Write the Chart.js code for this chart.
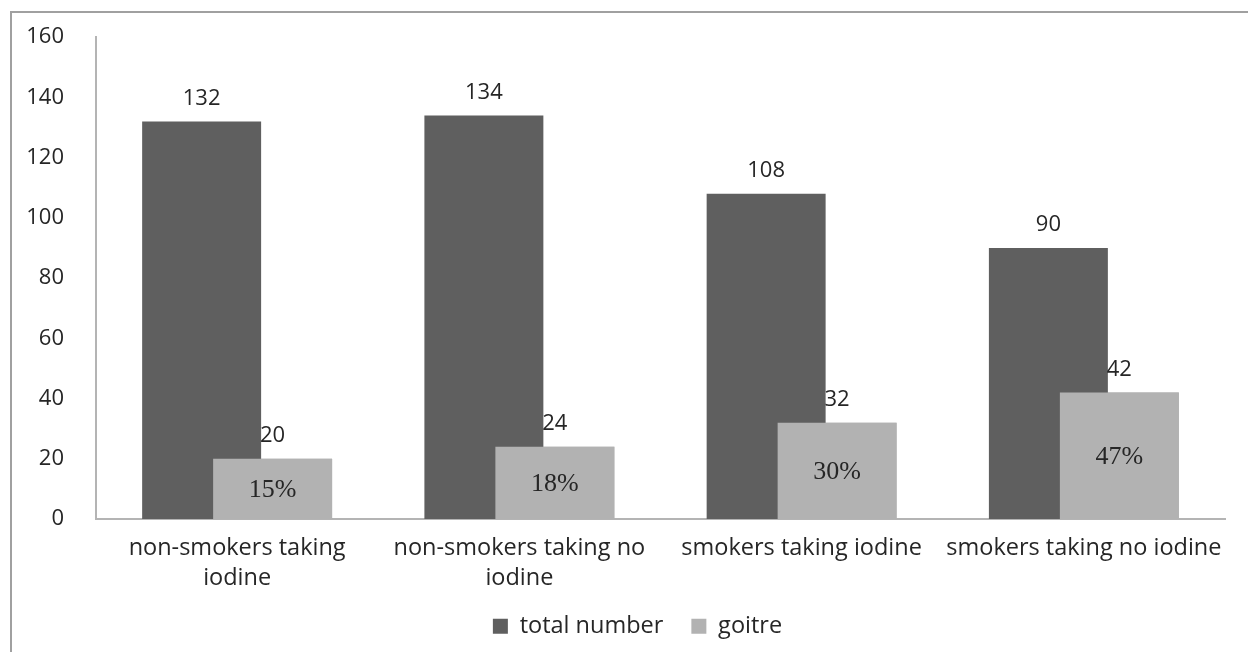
<!DOCTYPE html>
<html>
<head>
<meta charset="utf-8">
<script src="https://cdn.jsdelivr.net/npm/chart.js@4/dist/chart.umd.min.js"></script>
<style>
  html, body { margin: 0; padding: 0; background: #fff; }
  #wrap { position: relative; width: 1248px; height: 652px; overflow: hidden; }
  #frame { position: absolute; left: 10px; top: 11px; width: 1300px; height: 700px;
           border-top: 2px solid #a0a0a0; border-left: 2px solid #a0a0a0; }
  canvas { position: absolute; left: 0; top: 0; }
</style>
</head>
<body>
<div id="wrap">
  <div id="frame"></div>
  <canvas id="grafico" width="1248" height="652"></canvas>
</div>
<script>
// categorias e valores
const categorias = [
    ["non-smokers taking", "iodine"],
    ["non-smokers taking no", "iodine"],
    "smokers taking iodine",
    "smokers taking no iodine"
];
const totalNumber = [132, 134, 108, 90];
const goitre = [20, 24, 32, 42];
const yTicks = [0, 20, 40, 60, 80, 100, 120, 140, 160];

const fonte = "'Open Sans', sans-serif";

// desenha os rotulos de valor e as porcentagens
const rotulos = {
    id: "rotulos",
    afterLayout(chart) {
        // legenda um pouco a direita, como no original
        chart.legend.left += 25;
        chart.legend.right += 25;
    },
    afterDatasetsDraw(chart) {
        // goitre por cima das barras escuras
        chart.getDatasetMeta(1).controller.draw();

        const ctx = chart.ctx;
        ctx.save();
        ctx.textAlign = "center";
        ctx.textBaseline = "middle";
        ctx.fillStyle = "#262626";
        ctx.font = "22px " + fonte;
        [0, 1].forEach(d => {
            chart.getDatasetMeta(d).data.forEach((bar, i) => {
                const v = chart.data.datasets[d].data[i];
                ctx.fillText(String(v), bar.x, bar.y - 23);
            });
        });

        // porcentagem de goitre sobre o total, no meio da barra
        ctx.font = "26px 'Liberation Serif', serif";
        chart.getDatasetMeta(1).data.forEach((bar, i) => {
            const pct = Math.round(goitre[i] / totalNumber[i] * 100);
            ctx.fillText(pct + "%", bar.x, (bar.y + bar.base) / 2 + 1);
        });
        ctx.restore();
    }
};

const ctx = document.getElementById("grafico").getContext("2d");

new Chart(ctx, {
    type: "bar",
    data: {
        labels: categorias,
        datasets: [
            {
                label: "total number",
                data: totalNumber,
                backgroundColor: "#5f5f5f",
                categoryPercentage: 0.503,
                barPercentage: 1.676
            },
            {
                label: "goitre",
                data: goitre,
                backgroundColor: "#b2b2b2",
                categoryPercentage: 0.503,
                barPercentage: 1.676
            }
        ]
    },
    options: {
        responsive: false,
        animation: false,
        layout: { padding: { top: 34, right: 23, left: 0, bottom: 4 } },
        plugins: {
            tooltip: { enabled: false },
            legend: {
                position: "bottom",
                labels: {
                    font: { family: fonte, size: 23.5 },
                    color: "#262626",
                    boxWidth: 15,
                    boxHeight: 15,
                    padding: 28
                }
            }
        },
        scales: {
            x: {
                grid: { display: false, drawTicks: false },
                border: { color: "#b4b4b4", width: 2 },
                afterFit: s => { s.height = 67.5; },
                ticks: {
                    font: { family: fonte, size: 23.5, lineHeight: 1.28 },
                    color: "#262626",
                    maxRotation: 0,
                    autoSkip: false,
                    padding: 14
                }
            },
            y: {
                min: 0,
                max: 160,
                afterBuildTicks: s => { s.ticks = yTicks.map(v => ({ value: v })); },
                afterFit: s => { s.width = 96; },
                grid: { display: false },
                border: { color: "#b4b4b4", width: 2 },
                ticks: {
                    font: { family: fonte, size: 22 },
                    color: "#262626",
                    padding: 24
                }
            }
        }
    },
    plugins: [rotulos]
});
</script>
</body>
</html>
